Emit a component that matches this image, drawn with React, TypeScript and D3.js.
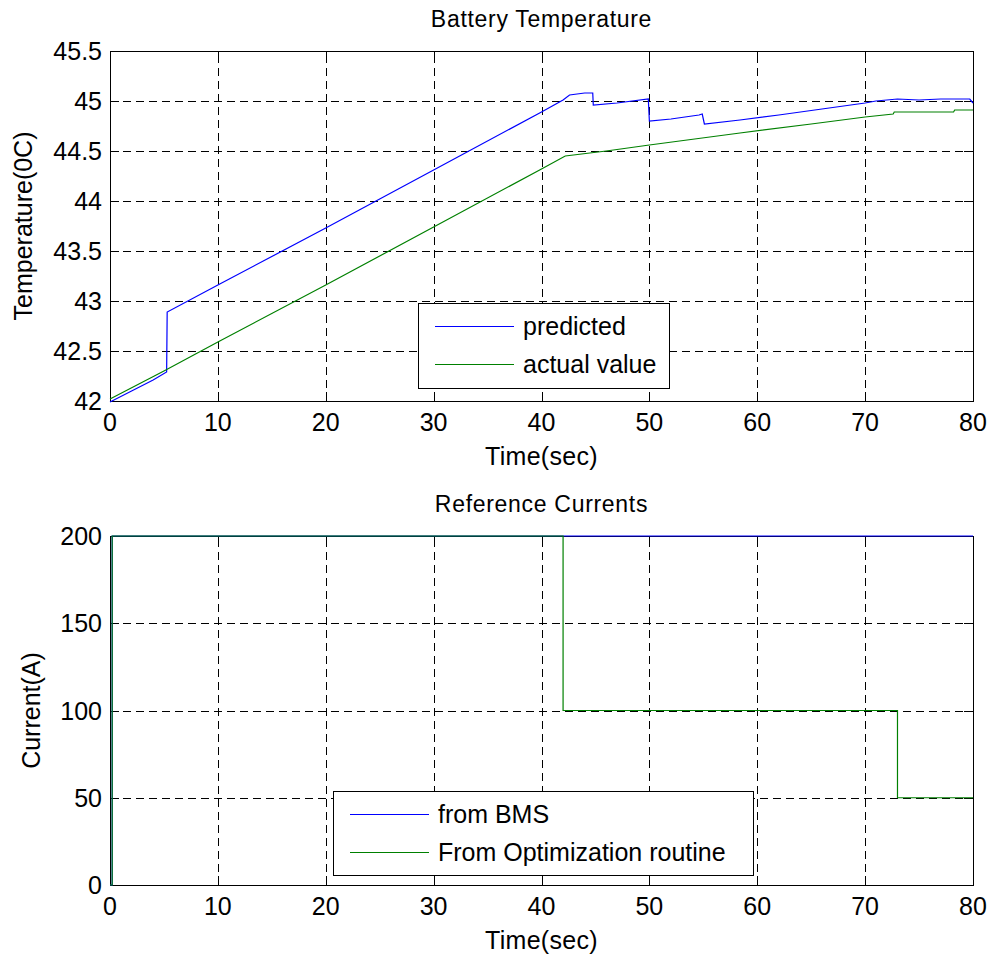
import React from "react";
import * as d3 from "d3";

// ---- Battery temperature (top panel) ----
const predictedTime = [0, 2, 4, 5.25, 5.3, 10, 20, 30, 40, 42, 42.6, 44.0, 44.75, 44.8, 47, 49.9, 50.0, 52, 54.6, 54.9, 55.1, 58.4, 62, 66, 70, 71, 73, 75, 77, 79.7, 80];
const predictedTemp = [41.99, 42.1, 42.21, 42.29, 42.89, 43.16, 43.73, 44.31, 44.89, 45.01, 45.06, 45.08, 45.08, 44.96, 44.98, 45.02, 44.8, 44.82, 44.86, 44.87, 44.77, 44.81, 44.86, 44.92, 44.98, 45.0, 45.02, 45.01, 45.02, 45.02, 44.98];

const actualTime = [0, 5, 10, 20, 30, 40, 42.2, 46, 50, 58.4, 65, 70, 72.6, 72.7, 78.2, 78.3, 80];
const actualTemp = [42.02, 42.3, 42.59, 43.16, 43.74, 44.32, 44.45, 44.5, 44.56, 44.68, 44.77, 44.84, 44.87, 44.89, 44.89, 44.91, 44.91];

const tempTicks = [42, 42.5, 43, 43.5, 44, 44.5, 45, 45.5];
const tempTickLabels = ["42", "42.5", "43", "43.5", "44", "44.5", "45", "45.5"];

// ---- Reference currents (bottom panel), piecewise-constant ----
const bmsTime = [0, 0.2, 80];
const bmsCurrent = [0, 200, 200];

const optTime = [0, 0.2, 42, 73, 80];
const optCurrent = [0, 200, 100, 50, 50];

const currentTicks = [0, 50, 100, 150, 200];
const currentTickLabels = ["0", "50", "100", "150", "200"];

const timeTicks = [0, 10, 20, 30, 40, 50, 60, 70, 80];
const timeTickLabels = ["0", "10", "20", "30", "40", "50", "60", "70", "80"];

const BLUE = "#0000ff";
const GREEN = "#008000";
const FONT = "'Liberation Sans', Arial, Helvetica, sans-serif";

type Series = {
  xs: number[];
  ys: number[];
  color: string;
  label: string;
  step?: boolean;
};

type PanelProps = {
  top: number;
  bottom: number;
  left: number;
  right: number;
  yDomain: [number, number];
  yTicks: number[];
  yTickLabels: string[];
  title: string;
  yLabel: string;
  yLabelX: number;
  series: Series[];
  legend: { x: number; y: number; w: number; h: number };
};

function Panel(p: PanelProps) {
  const x = d3.scaleLinear().domain([0, 80]).range([p.left, p.right]);
  const y = d3.scaleLinear().domain(p.yDomain).range([p.bottom, p.top]);
  const tickLen = 9;
  const cx = (p.left + p.right) / 2;
  const cy = (p.top + p.bottom) / 2;

  return (
    <g>
      {/* dashed grid */}
      <g stroke="#000" strokeWidth={1} strokeDasharray="8 5" shapeRendering="crispEdges">
        {timeTicks.map((t) => (
          <line key={"gx" + t} x1={Math.round(x(t)) + 0.5} x2={Math.round(x(t)) + 0.5} y1={p.bottom} y2={p.top} />
        ))}
        {p.yTicks.map((t) => (
          <line key={"gy" + t} x1={p.left} x2={p.right} y1={Math.round(y(t)) + 0.5} y2={Math.round(y(t)) + 0.5} />
        ))}
      </g>

      {/* inward ticks on all four sides */}
      <g stroke="#000" strokeWidth={1} shapeRendering="crispEdges">
        {timeTicks.map((t) => {
          const xx = Math.round(x(t)) + 0.5;
          return (
            <g key={"tx" + t}>
              <line x1={xx} x2={xx} y1={p.bottom} y2={p.bottom - tickLen} />
              <line x1={xx} x2={xx} y1={p.top} y2={p.top + tickLen} />
            </g>
          );
        })}
        {p.yTicks.map((t) => {
          const yy = Math.round(y(t)) + 0.5;
          return (
            <g key={"ty" + t}>
              <line x1={p.left} x2={p.left + tickLen} y1={yy} y2={yy} />
              <line x1={p.right} x2={p.right - tickLen} y1={yy} y2={yy} />
            </g>
          );
        })}
      </g>

      {/* axes box */}
      <rect
        x={p.left + 0.5}
        y={p.top + 0.5}
        width={p.right - p.left}
        height={p.bottom - p.top}
        fill="none"
        stroke="#000"
        strokeWidth={1}
        shapeRendering="crispEdges"
      />

      {/* data lines */}
      {p.series.map((s) => {
        const pts: [number, number][] = s.xs.map((v, i) => [v, s.ys[i]]);
        const gen = d3
          .line<[number, number]>()
          .x((d) => x(d[0]))
          .y((d) => y(d[1]))
          .curve(s.step ? d3.curveStepAfter : d3.curveLinear);
        return <path key={s.label} d={gen(pts) || ""} fill="none" stroke={s.color} strokeWidth={1.2} />;
      })}

      {/* tick labels */}
      <g fontFamily={FONT} fontSize={25} fill="#000">
        {timeTicks.map((t, i) => (
          <text key={"lx" + t} x={x(t)} y={p.bottom + 30} textAnchor="middle">
            {timeTickLabels[i]}
          </text>
        ))}
        {p.yTicks.map((t, i) => (
          <text key={"ly" + t} x={p.left - 8} y={y(t) + 9} textAnchor="end">
            {p.yTickLabels[i]}
          </text>
        ))}
      </g>

      {/* title and axis labels */}
      <text x={cx} y={p.top - 24} textAnchor="middle" fontFamily={FONT} fontSize={23} letterSpacing={0.7}>
        {p.title}
      </text>
      <text x={cx} y={p.bottom + 64} textAnchor="middle" fontFamily={FONT} fontSize={25} letterSpacing={0.3}>
        Time(sec)
      </text>
      <text
        transform={`translate(${p.yLabelX},${cy}) rotate(-90)`}
        textAnchor="middle"
        fontFamily={FONT}
        fontSize={25}
      >
        {p.yLabel}
      </text>

      {/* legend */}
      <g>
        <rect
          x={p.legend.x + 0.5}
          y={p.legend.y + 0.5}
          width={p.legend.w}
          height={p.legend.h}
          fill="#fff"
          stroke="#000"
          strokeWidth={1}
          shapeRendering="crispEdges"
        />
        {p.series.map((s, i) => {
          const ry = p.legend.y + 23 + i * 38;
          return (
            <g key={"lg" + s.label}>
              <line x1={p.legend.x + 17} x2={p.legend.x + 96} y1={ry + 0.5} y2={ry + 0.5} stroke={s.color} strokeWidth={1.2} />
              <text x={p.legend.x + 105} y={ry + 9} fontFamily={FONT} fontSize={25}>
                {s.label}
              </text>
            </g>
          );
        })}
      </g>
    </g>
  );
}

export default function App() {
  return (
    <svg
      width={992}
      height={958}
      viewBox="0 0 992 958"
      style={{ position: "absolute", left: 0, top: 0, background: "#fff" }}
    >
      <rect x={0} y={0} width={992} height={958} fill="#fff" />
      <Panel
        top={51}
        bottom={401}
        left={110}
        right={973}
        yDomain={[42, 45.5]}
        yTicks={tempTicks}
        yTickLabels={tempTickLabels}
        title="Battery Temperature"
        yLabel="Temperature(0C)"
        yLabelX={32}
        series={[
          { xs: predictedTime, ys: predictedTemp, color: BLUE, label: "predicted" },
          { xs: actualTime, ys: actualTemp, color: GREEN, label: "actual value" },
        ]}
        legend={{ x: 418, y: 303, w: 251, h: 85 }}
      />
      <Panel
        top={536}
        bottom={885}
        left={110}
        right={973}
        yDomain={[0, 200]}
        yTicks={currentTicks}
        yTickLabels={currentTickLabels}
        title="Reference Currents"
        yLabel="Current(A)"
        yLabelX={40}
        series={[
          { xs: bmsTime, ys: bmsCurrent, color: BLUE, label: "from BMS", step: true },
          { xs: optTime, ys: optCurrent, color: GREEN, label: "From Optimization routine", step: true },
        ]}
        legend={{ x: 333, y: 791, w: 420, h: 84 }}
      />
    </svg>
  );
}
